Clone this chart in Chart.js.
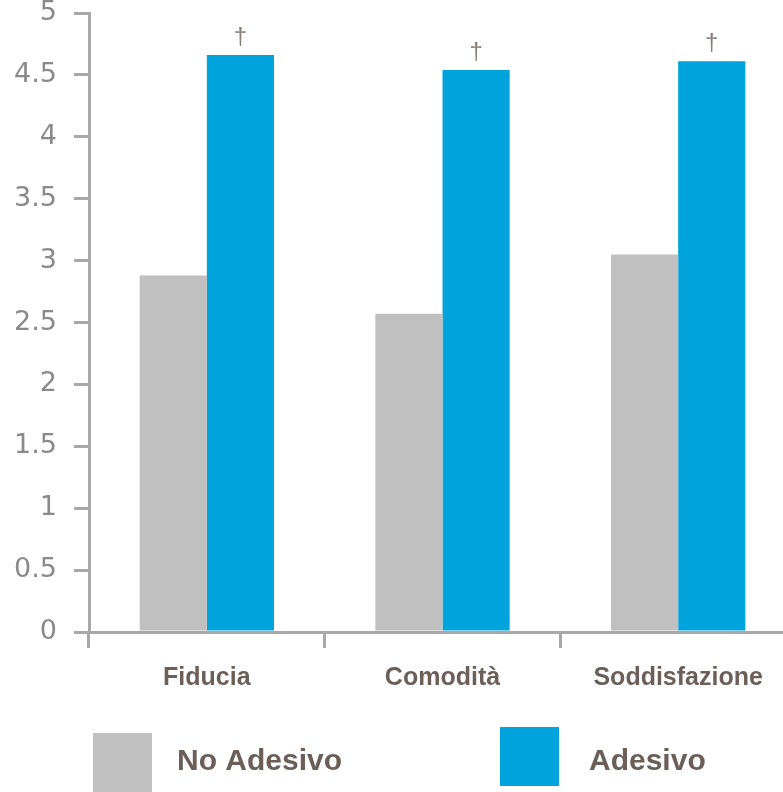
<!DOCTYPE html>
<html>
<head>
<meta charset="utf-8">
<script src="https://cdn.jsdelivr.net/npm/chart.js@4"></script>
<style>
  html,body{margin:0;padding:0;background:#fff;overflow:hidden}
  #wrap{position:absolute;left:0;top:0;width:800px;height:792px}
</style>
</head>
<body>
<div id="wrap"><canvas id="chart"></canvas></div>
<script>
/* data */
const categories=['Fiducia','Comodità','Soddisfazione'];
const seriesNames=['No Adesivo','Adesivo'];
const noAdesivo=[2.88,2.57,3.05];
const adesivo=[4.66,4.54,4.61];
const markers=['†','†','†'];
const yTicks=[0,0.5,1,1.5,2,2.5,3,3.5,4,4.5,5];

const GRAY='#c0c0c0', BLUE='#00a3dc', AXIS='#a8a8a8', TXT='#6b5f57';

// dagger above each blue bar
const markerPlugin={id:'markers',afterDatasetsDraw(chart){
  const ctx=chart.ctx, meta=chart.getDatasetMeta(1);
  ctx.save();
  ctx.font='24px "Liberation Sans", Arial, sans-serif';
  ctx.fillStyle='#8a7f77'; ctx.textAlign='center'; ctx.textBaseline='alphabetic';
  meta.data.forEach((bar,i)=>{ if(markers[i]) ctx.fillText(markers[i],bar.x,bar.y-11); });
  ctx.restore();
}};

// big square legend under the axis
const legendPlugin={id:'boxLegend',afterDraw(chart){
  const ctx=chart.ctx;
  const boxX=[93,500], boxY=[733,727], textX=[177,589];
  ctx.save();
  ctx.font='bold 30px "Liberation Sans", Arial, sans-serif';
  ctx.textBaseline='alphabetic'; ctx.textAlign='left';
  chart.data.datasets.forEach((ds,i)=>{
    ctx.fillStyle=ds.backgroundColor; ctx.fillRect(boxX[i],boxY[i],59,59);
    ctx.fillStyle=TXT; ctx.fillText(ds.label,textX[i],770);
  });
  ctx.restore();
}};

new Chart(document.getElementById('chart'),{
  type:'bar',
  data:{labels:categories,datasets:[
    {label:seriesNames[0],data:noAdesivo,backgroundColor:GRAY,borderWidth:0},
    {label:seriesNames[1],data:adesivo,backgroundColor:BLUE,borderWidth:0}
  ]},
  options:{
    responsive:true,maintainAspectRatio:false,animation:false,
    layout:{autoPadding:false,padding:{top:13,right:4,bottom:100,left:0}},
    datasets:{bar:{categoryPercentage:0.57,barPercentage:1}},
    plugins:{legend:{display:false},tooltip:{enabled:false}},
    scales:{
      x:{
        afterFit:s=>{s.height=60;s.paddingLeft=0;s.paddingRight=0;},
        grid:{offset:true,drawOnChartArea:false,tickLength:16,color:AXIS,lineWidth:3},
        border:{color:AXIS,width:3},
        ticks:{color:TXT,padding:15,font:{family:'"Liberation Sans", Arial, sans-serif',size:25,weight:'bold'}}
      },
      y:{
        min:0,max:5,
        afterFit:s=>{s.width=89;s.paddingTop=0;s.paddingBottom=0;},
        afterBuildTicks:s=>{s.ticks=yTicks.map(v=>({value:v}));},
        grid:{drawOnChartArea:false,tickLength:15,color:AXIS,lineWidth:3},
        border:{color:AXIS,width:3},
        ticks:{color:'#8a8a8a',padding:17,callback:v=>String(v),
          font:{family:'"DejaVu Sans", sans-serif',size:27}}
      }
    }
  },
  plugins:[markerPlugin,legendPlugin]
});
</script>
</body>
</html>
